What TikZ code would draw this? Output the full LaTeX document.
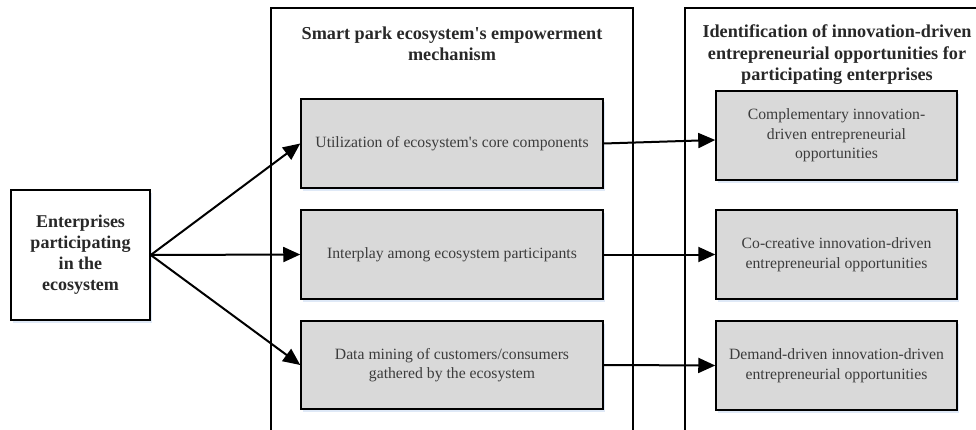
\documentclass[tikz,border=0pt]{standalone}
\usepackage{fontspec}
\setmainfont{Liberation Serif}
\usetikzlibrary{arrows.meta,calc,shadows}
\definecolor{boxgray}{RGB}{217,217,217}
\definecolor{txtgray}{RGB}{60,60,60}
\definecolor{ttlgray}{RGB}{40,40,40}
\definecolor{shadowblue}{RGB}{215,228,245}
\begin{document}
\begin{tikzpicture}[x=1pt,y=1pt,
  greybox/.style={draw=black, line width=1.5pt, fill=boxgray, text=txtgray,
    align=center, inner sep=0pt,
    font=\fontsize{15.7}{19.5}\selectfont,
    drop shadow={shadow xshift=2pt, shadow yshift=-3pt, fill=shadowblue, opacity=0.8}},
  entbox/.style={draw=black, line width=1.5pt, fill=white, text=ttlgray,
    align=center, inner sep=0pt, minimum width=139pt, minimum height=130pt,
    font=\bfseries\fontsize{18}{21}\selectfont,
    drop shadow={shadow xshift=2pt, shadow yshift=-3pt, fill=shadowblue, opacity=0.8}},
  ttl/.style={align=center, inner sep=0pt, text=ttlgray,
    font=\bfseries\fontsize{18.2}{21.5}\selectfont},
  frame/.style={draw=black, line width=1.5pt},
  conn/.style={draw=black, line width=2pt, -{Triangle[length=17pt,width=15pt]}}
]
\useasboundingbox (0,0) rectangle (976,-430);
\clip (0,0) rectangle (976,-430);

% containers (open at bottom)
\draw[frame] (271,-440) -- (271,-8) -- (633,-8) -- (633,-440);
\draw[frame] (685,-440) -- (685,-8) -- (990,-8) -- (990,-440);

% titles
\node[ttl] (t1) at (452,-44) {Smart park ecosystem\textquotesingle s empowerment\\mechanism};
\node[ttl] (t2) at (837,-55) {Identification of innovation-driven\\entrepreneurial opportunities for\\participating enterprises};

% left box
\node[entbox] (ent) at (80.5,-255) {Enterprises\\participating\\in the\\ecosystem};

% middle boxes
\node[greybox, minimum width=302pt, minimum height=89pt] (m1) at (452,-143.5) {Utilization of ecosystem\textquotesingle s core components};
\node[greybox, minimum width=302pt, minimum height=89pt] (m2) at (452,-254.5) {Interplay among ecosystem participants};
\node[greybox, minimum width=302pt, minimum height=88pt] (m3) at (452,-365) {Data mining of customers/consumers\\gathered by the ecosystem};

% right boxes
\node[greybox, minimum width=241pt, minimum height=89pt] (r1) at (836.5,-135.5) {Complementary innovation-\\driven entrepreneurial\\opportunities};
\node[greybox, minimum width=241pt, minimum height=89pt] (r2) at (836.5,-254.5) {Co-creative innovation-driven\\entrepreneurial opportunities};
\node[greybox, minimum width=241pt, minimum height=89pt] (r3) at (836.5,-365.5) {Demand-driven innovation-driven\\entrepreneurial opportunities};

% connectors
\coordinate (r1in) at ($(r1.west)+(0,-4.5)$);
\draw[conn] (ent.east) -- (m1.west);
\draw[conn] (ent.east) -- (m2.west);
\draw[conn] (ent.east) -- (m3.west);
\draw[conn] (m1.east) -- (r1in);
\draw[conn] (m2.east) -- (r2.west);
\draw[conn] (m3.east) -- (r3.west);
\end{tikzpicture}
\end{document}
